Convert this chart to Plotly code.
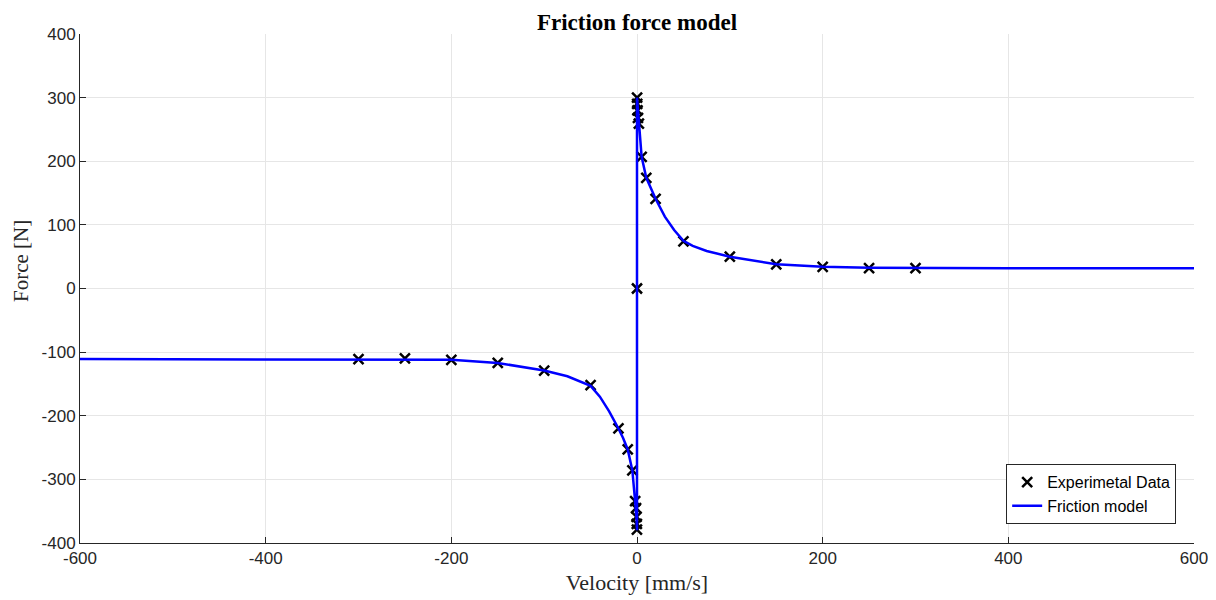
import plotly.graph_objects as go

exp_v = [-300, -250, -200, -150, -100, -50, -20, -10, -5,
         -2, -1, -0.5, -0.2, -0.1, 0,
         0.1, 0.2, 0.5, 1, 2, 5, 10, 20, 50, 100, 150, 200, 250, 300]
exp_f = [-111, -110, -112, -117, -129, -152, -220, -253, -286,
         -334, -345, -359, -370, -379, 0,
         300, 290, 280, 268, 259, 207, 174, 141, 74, 50, 38, 34, 32, 32]

# Friction model curve
mod_v = [-600, -400, -300, -250, -200, -150, -100, -75, -50, -40, -30, -20, -15,
         -10, -5, -2, -1, -0.5, -0.1, 0, 0, 0.1, 0.5, 1, 2, 5, 10, 15, 20, 30,
         40, 50, 60, 75, 100, 150, 200, 250, 300, 400, 600]
mod_f = [-111, -111, -111, -111, -112, -117, -129, -138, -153, -170, -193, -220, -235,
         -253, -286, -335, -350, -362, -376, -380, 300, 298, 288, 276, 258, 207, 174, 156, 141, 113,
         92, 75, 67, 59, 50, 38, 34, 32.5, 32, 32, 32]

x_ticks = [-600, -400, -200, 0, 200, 400, 600]
x_labels = ["-600", "-400", "-200", "0", "200", "400", "600"]
y_ticks = [-400, -300, -200, -100, 0, 100, 200, 300, 400]
y_labels = ["-400", "-300", "-200", "-100", "0", "100", "200", "300", "400"]

axis_col = "#262626"
grid_col = "#e6e6e6"

fig = go.Figure()
fig.add_trace(go.Scatter(
    x=exp_v, y=exp_f, mode="markers", name="Experimetal Data",
    marker=dict(symbol="x-thin", size=10, color="black",
                line=dict(width=2.5, color="black")),
))
fig.add_trace(go.Scatter(
    x=mod_v, y=mod_f, mode="lines", name="Friction model",
    line=dict(color="#0000ff", width=2.5),
))

fig.update_layout(
    width=1216, height=600,
    margin=dict(l=72, r=30, t=26, b=65),
    paper_bgcolor="white", plot_bgcolor="white",
    title=dict(text="<b>Friction force model</b>", x=0.5, xanchor="center",
               xref="paper", y=0.977, yref="container", yanchor="middle",
               font=dict(family="Liberation Serif", size=23, color="black")),
    font=dict(family="Liberation Sans", size=17, color=axis_col),
    showlegend=True,
    legend=dict(x=0.984, y=0.037, xanchor="right", yanchor="bottom",
                bgcolor="white", bordercolor=axis_col, borderwidth=1,
                itemwidth=30,
                font=dict(family="Liberation Sans", size=16, color="black")),
    annotations=[dict(text="Force [N]", textangle=-90, xref="paper", yref="paper",
                      x=0, y=0.554, xshift=-59, xanchor="center", yanchor="middle",
                      showarrow=False,
                      font=dict(family="Liberation Serif", size=21, color=axis_col))],
)
fig.update_xaxes(
    range=[-600, 600], tickvals=x_ticks, ticktext=x_labels, ticks="inside", ticklen=6,
    tickcolor=axis_col, showline=True, linecolor=axis_col, linewidth=1,
    showgrid=True, gridcolor=grid_col, zeroline=False,
    title=dict(text="Velocity [mm/s]", standoff=7,
               font=dict(family="Liberation Serif", size=22, color=axis_col)),
)
fig.update_yaxes(
    range=[-400, 400], tickvals=y_ticks, ticktext=y_labels, ticks="inside", ticklen=6,
    tickcolor=axis_col, showline=True, linecolor=axis_col, linewidth=1,
    showgrid=True, gridcolor=grid_col, zeroline=False,
)

fig.write_html("out.html")
